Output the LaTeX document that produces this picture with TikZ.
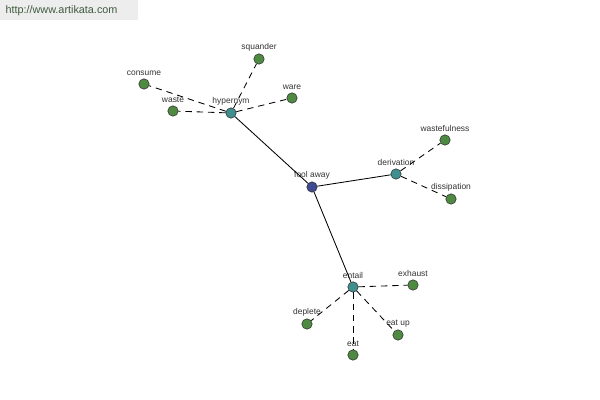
\documentclass[tikz,border=0pt]{standalone}
\usepackage{fontspec}
\setmainfont{Liberation Sans}
\usepackage{tikz}

\definecolor{leafgreen}{HTML}{4F8A43}
\definecolor{hubteal}{HTML}{3F8F8F}
\definecolor{rootblue}{HTML}{3E4A92}
\definecolor{headergray}{HTML}{EDEDED}
\definecolor{headertext}{HTML}{3F5A3F}
\definecolor{lbltext}{HTML}{333333}

\begin{document}
\begin{tikzpicture}[x=0.025cm, y=-0.025cm,
		word/.style={circle, draw=black!80, line width=0.4pt, inner sep=0pt, minimum size=0.26cm, fill=leafgreen},
		hub/.style={word, fill=hubteal},
		root/.style={word, fill=rootblue},
		lbl/.style={font=\fontsize{6}{7}\selectfont, text=lbltext, inner sep=0.5pt},
		every label/.style={lbl},
		label distance=1.2pt,
		tree/.style={line width=0.6pt},
		syn/.style={line width=0.6pt, dash pattern=on 4.5pt off 3.5pt}]
		\useasboundingbox[fill=white] (0,0) rectangle (600,400);

		% Header
		\fill[headergray] (0,0) rectangle (138,20);
		\node[font=\fontsize{7.7}{9}\selectfont, text=headertext, inner sep=0pt] (site) at (61.5,11) {http://www.artikata.com};

		% Center and hubs
		\node[root, label=above:fool away] (foolaway) at (312,187) {};
		\node[hub, label=above:hypernym] (hypernym) at (231,113) {};
		\node[hub, label=above:derivation] (derivation) at (396,174) {};
		\node[hub, label=above:entail] (entail) at (353,287) {};

		% Leaves
		\node[word, label=above:squander] (squander) at (259,59) {};
		\node[word, label=above:consume] (consume) at (144,84) {};
		\node[word, label=above:waste] (waste) at (173,111) {};
		\node[word, label=above:ware] (ware) at (292,98) {};
		\node[word, label=above:wastefulness] (wastefulness) at (445,140) {};
		\node[word, label=above:dissipation] (dissipation) at (451,199) {};
		\node[word, label=above:exhaust] (exhaust) at (413,285) {};
		\node[word, label=above:deplete] (deplete) at (307,324) {};
		\node[word, label=above:eat up] (eatup) at (398,335) {};
		\node[word, label=above:eat] (eat) at (353,355) {};

		% Solid edges
		\draw[tree] (foolaway) -- (hypernym);
		\draw[tree] (foolaway) -- (derivation);
		\draw[tree] (foolaway) -- (entail);

		% Dashed edges
		\foreach \leaf in {squander, consume, waste, ware}
			\draw[syn] (hypernym) -- (\leaf);
		\foreach \leaf in {wastefulness, dissipation}
			\draw[syn] (derivation) -- (\leaf);
		\foreach \leaf in {exhaust, deplete, eatup, eat}
			\draw[syn] (entail) -- (\leaf);
	\end{tikzpicture}
\end{document}
